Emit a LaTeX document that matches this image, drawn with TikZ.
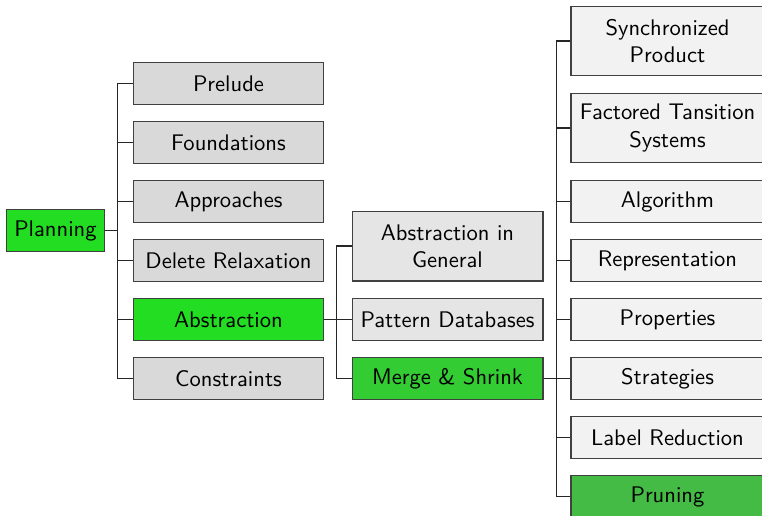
\documentclass[tikz,border=0pt]{standalone}
\usetikzlibrary{positioning}
\begin{document}
\begin{tikzpicture}[x=0.443pt,y=-0.443pt,
  font=\sffamily,
  box/.style={draw=black!75, line width=0.45pt, inner sep=0pt, align=center, minimum height=19pt},
  c0/.style={box, minimum width=43pt},
  c1/.style={box, minimum width=84.6pt, fill=black!15},
  c2/.style={box, minimum width=84.6pt, fill=black!10},
  c3/.style={box, minimum width=85.5pt, fill=black!5},
  tall/.style={minimum height=31pt},
  g1/.style={fill=green1}, g2/.style={fill=green2}, g3/.style={fill=green3},
  conn/.style={draw=black!85, line width=0.5pt}]
\definecolor{green1}{HTML}{22DD22}
\definecolor{green2}{HTML}{33CC33}
\definecolor{green3}{HTML}{44BB44}
\useasboundingbox (0,0) rectangle (762,516);
\node[c0, g1] (plan) at (55.5,230.5) {Planning};
\node[c1] (prel) at (228.5,83.5) {Prelude};
\node[c1] (found) at (228.5,142.5) {Foundations};
\node[c1] (appr) at (228.5,201.5) {Approaches};
\node[c1] (del) at (228.5,260.5) {Delete Relaxation};
\node[c1, g1] (abs) at (228.5,319.5) {Abstraction};
\node[c1] (cons) at (228.5,378.5) {Constraints};
\node[c2, tall] (absg) at (447.5,246) {Abstraction in\\General};
\node[c2] (pdb) at (447.5,319.5) {Pattern Databases};
\node[c2, g2] (ms) at (447.5,378.5) {Merge \& Shrink};
\node[c3, tall] (sync) at (667.5,41) {Synchronized\\Product};
\node[c3, tall] (fact) at (667.5,128) {Factored Tansition\\Systems};
\node[c3] (alg) at (667.5,201.5) {Algorithm};
\node[c3] (rep) at (667.5,260.5) {Representation};
\node[c3] (prop) at (667.5,319.5) {Properties};
\node[c3] (strat) at (667.5,378.5) {Strategies};
\node[c3] (lab) at (667.5,437.5) {Label Reduction};
\node[c3, g3] (prun) at (667.5,496.5) {Pruning};
\foreach \c in {prel,found,appr,del,abs,cons}
  \draw[conn] (plan.east) -- ++(13,0) |- (\c.west);
\foreach \c in {absg,pdb,ms}
  \draw[conn] (abs.east) -- ++(12,0) |- (\c.west);
\foreach \c in {sync,fact,alg,rep,prop,strat,lab,prun}
  \draw[conn] (ms.east) -- ++(13,0) |- (\c.west);
\end{tikzpicture}
\end{document}
